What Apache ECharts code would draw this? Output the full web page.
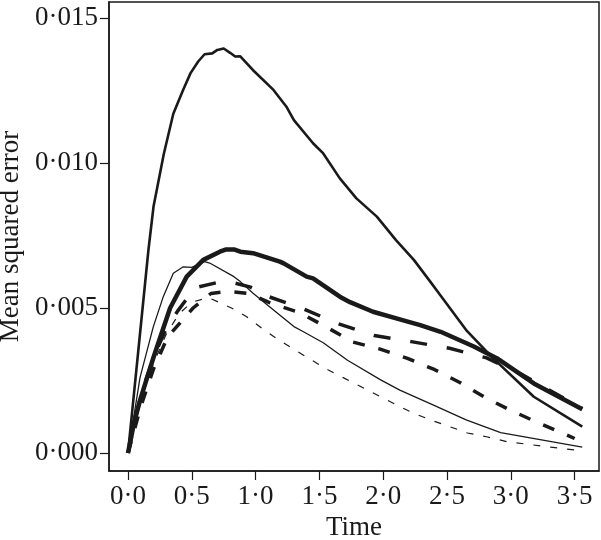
<!DOCTYPE html>
<html>
<head>
<meta charset="utf-8">
<script src="https://cdn.jsdelivr.net/npm/echarts@6/dist/echarts.min.js"></script>
<style>
  html, body { margin: 0; padding: 0; background: #fff; }
  #chart { width: 601px; height: 540px; }
</style>
</head>
<body>
<div id="chart"></div>
<script>
// tick positions
var xTicks = [0, 0.5, 1, 1.5, 2, 2.5, 3, 3.5];
var yTicks = [0, 0.005, 0.01, 0.015];

// [time, mean squared error]
var mediumSolid = [[0,0],[0.08,0.0035],[0.16,0.0070],[0.2,0.0085],[0.28,0.0103],[0.355,0.0117],[0.43,0.0125],[0.49,0.0131],[0.55,0.0135],[0.6,0.01375],[0.66,0.01378],[0.7,0.0139],[0.75,0.01395],[0.8,0.0138],[0.84,0.01367],[0.88,0.01368],[0.98,0.0132],[1.14,0.01252],[1.24,0.01195],[1.3,0.01148],[1.45,0.01068],[1.53,0.01033],[1.66,0.00947],[1.79,0.00878],[1.95,0.00815],[2.1,0.00734],[2.24,0.00666],[2.37,0.0059],[2.42,0.0056],[2.65,0.00424],[2.86,0.00327],[3.18,0.00194],[3.56,0.00091]];
var thickSolid = [[0,0],[0.05,0.0011],[0.1,0.0019],[0.2,0.0033],[0.33,0.0050],[0.46,0.00608],[0.59,0.00666],[0.72,0.00694],[0.77,0.00702],[0.83,0.00702],[0.88,0.00694],[0.98,0.00689],[1.19,0.0066],[1.22,0.00654],[1.4,0.00608],[1.45,0.00602],[1.66,0.00539],[1.74,0.0052],[1.92,0.00487],[2.13,0.00461],[2.29,0.00441],[2.45,0.00418],[2.71,0.00367],[2.89,0.00327],[3.18,0.0024],[3.56,0.00151]];
var thinSolid = [[0,0],[0.094,0.0026],[0.198,0.00435],[0.277,0.0054],[0.355,0.0062],[0.433,0.00642],[0.5,0.0064],[0.6,0.0066],[0.64,0.00655],[0.83,0.00608],[0.88,0.00591],[0.98,0.00551],[1.15,0.0049],[1.3,0.00436],[1.35,0.00424],[1.53,0.0038],[1.72,0.0032],[1.98,0.00252],[2.13,0.00217],[2.39,0.00166],[2.65,0.00114],[2.92,0.0007],[3.56,0.0002]];
var longDashed = [[0,0],[0.1,0.002],[0.2,0.0033],[0.3,0.0043],[0.39,0.0049],[0.525,0.0057],[0.72,0.0059],[0.8,0.0059],[0.96,0.00572],[1.11,0.00538],[1.36,0.005],[1.64,0.00447],[1.93,0.00405],[2.22,0.00384],[2.52,0.00361],[2.81,0.00328],[3.08,0.00272],[3.56,0.00153]];
var thickDashed = [[0,0],[0.1,0.0016],[0.2,0.0029],[0.31,0.004],[0.51,0.005],[0.65,0.0055],[0.78,0.00557],[0.95,0.0055],[1.1,0.0052],[1.35,0.00483],[1.56,0.00433],[1.76,0.00383],[1.97,0.00359],[2.19,0.00326],[2.4,0.00288],[2.6,0.00243],[2.8,0.00191],[3.0,0.00147],[3.2,0.00107],[3.42,0.00066],[3.5,0.0005]];
var thinDashed = [[0,0],[0.1,0.0019],[0.2,0.0031],[0.3,0.0041],[0.4,0.0048],[0.5,0.0052],[0.62,0.00535],[0.66,0.0053],[0.76,0.0051],[0.81,0.005],[0.93,0.0047],[1.05,0.0043],[1.18,0.0039],[1.31,0.00355],[1.44,0.0032],[1.57,0.00286],[1.69,0.00259],[2.13,0.0016],[2.24,0.00137],[2.37,0.00114],[2.52,0.00091],[2.66,0.00069],[2.81,0.00056],[2.97,0.00039],[3.13,0.0003],[3.28,0.00022],[3.55,0.00008]];

var font = 'Liberation Serif';
var ink = '#1a1a1a';

function line(data, width, dash) {
  return {
    type: 'line',
    data: data,
    symbol: 'none',
    smooth: false,
    silent: true,
    lineStyle: { color: ink, width: width, type: dash || 'solid', cap: 'butt', join: 'round' }
  };
}

var chart = echarts.init(document.getElementById('chart'));
chart.setOption({
  animation: false,
  backgroundColor: '#fff',
  grid: {
    left: 109, right: 2, top: 2, bottom: 69,
    show: true, borderColor: ink, borderWidth: 1.5,
    containLabel: false, outerBoundsMode: 'none'
  },
  xAxis: {
    type: 'value',
    min: -0.149,
    max: 3.691,
    name: 'Time',
    nameLocation: 'middle',
    nameGap: 43,
    nameTextStyle: { fontFamily: font, fontSize: 27, color: ink },
    axisLine: { show: true, onZero: false, lineStyle: { color: ink, width: 1.5 } },
    axisTick: { show: true, inside: false, length: 9, customValues: xTicks, lineStyle: { color: ink, width: 1.2 } },
    axisLabel: {
      customValues: xTicks, margin: 12, fontFamily: font, fontSize: 27, color: ink,
      formatter: function (v) { return v.toFixed(1).replace('.', '\u00b7'); }
    },
    splitLine: { show: false }
  },
  yAxis: {
    type: 'value',
    min: -0.000621,
    max: 0.015552,
    name: 'Mean squared error',
    nameLocation: 'middle',
    nameGap: 81,
    nameTextStyle: { fontFamily: font, fontSize: 27, color: ink },
    axisLine: { show: true, onZero: false, lineStyle: { color: ink, width: 1.5 } },
    axisTick: { show: true, inside: false, length: 9, customValues: yTicks, lineStyle: { color: ink, width: 1.2 } },
    axisLabel: {
      customValues: yTicks, margin: 11, fontFamily: font, fontSize: 27, color: ink,
      formatter: function (v) { return v.toFixed(3).replace('.', '\u00b7'); }
    },
    splitLine: { show: false }
  },
  series: [
    line(thinDashed, 1.2, [7, 10]),
    line(thinSolid, 1.3),
    line(thickDashed, 3.5, [12, 14]),
    line(longDashed, 3.5, [17, 20]),
    line(thickSolid, 4.5),
    line(mediumSolid, 2.6)
  ]
});
</script>
</body>
</html>
